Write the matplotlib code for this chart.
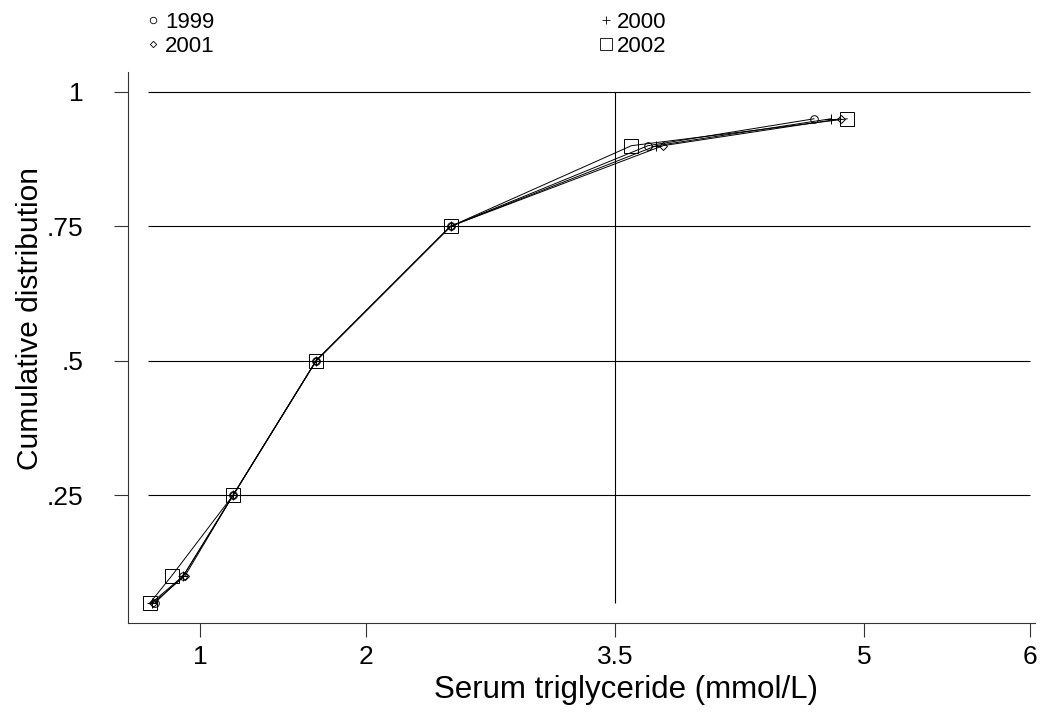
import matplotlib
matplotlib.use("Agg")
import matplotlib.pyplot as plt

plt.rcParams['font.family'] = ['Liberation Sans', 'DejaVu Sans']

# Cumulative probabilities (percentiles) and triglyceride values per survey year
cum_prob = [0.05, 0.10, 0.25, 0.50, 0.75, 0.90, 0.95]
tg_1999 = [0.73, 0.90, 1.20, 1.70, 2.51, 3.70, 4.70]
tg_2000 = [0.71, 0.90, 1.20, 1.70, 2.51, 3.75, 4.80]
tg_2001 = [0.72, 0.91, 1.20, 1.70, 2.51, 3.79, 4.86]
tg_2002 = [0.70, 0.83, 1.20, 1.70, 2.51, 3.60, 4.90]

years = ['1999', '2000', '2001', '2002']
x_ticks = [1, 2, 3.5, 5, 6]
x_tick_labels = ['1', '2', '3.5', '5', '6']
y_ticks = [0.25, 0.5, 0.75, 1.0]
y_tick_labels = ['.25', '.5', '.75', '1']
ref_x = 3.5

fig = plt.figure(figsize=(10.4, 7.13), dpi=100)
ax = fig.add_axes([0.1228, 0.126, 0.8722, 0.773])

# horizontal grid and vertical reference line
ax.hlines(y_ticks, 0.687, 6.0, color='black', lw=0.8, zorder=1)
ax.vlines(ref_x, cum_prob[0], 1.0, color='black', lw=0.8, zorder=1)

styles = [
    dict(marker='o', ms=5.5, mfc='none'),
    dict(marker='+', ms=6.5),
    dict(marker='D', ms=3.8, mfc='none'),
    dict(marker='s', ms=10.0, mfc='none'),
]
series = [tg_1999, tg_2000, tg_2001, tg_2002]
for yr, vals, st in zip(years, series, styles):
    ax.plot(vals, cum_prob, color='black', lw=0.7, mec='black',
            mew=0.7, label=yr, zorder=3, **st)

ax.set_xlim(0.565, 6.03)
ax.set_ylim(0.012, 1.037)
ax.set_xticks(x_ticks)
ax.set_xticklabels(x_tick_labels)
ax.set_yticks(y_ticks)
ax.set_yticklabels(y_tick_labels)

for s in ['top', 'right']:
    ax.spines[s].set_visible(False)
for s in ['left', 'bottom']:
    ax.spines[s].set_linewidth(0.8)
    ax.spines[s].set_color('#333333')

ax.tick_params(axis='both', direction='out', length=10, width=0.8,
               color='#333333', labelsize=19)
ax.tick_params(axis='y', pad=22)
ax.tick_params(axis='x', pad=6)

ax.set_xlabel('Serum triglyceride (mmol/L)', fontsize=22.5, va='center')
ax.set_ylabel('Cumulative distribution', fontsize=21.5, va='center')
ax.xaxis.set_label_coords(0.549, -0.1216)
ax.yaxis.set_label_coords(-0.1077, 0.5535)

# legend above the plot: two columns, ordered 1999/2001 | 2000/2002
order = [0, 2, 1, 3]
leg_handles = []
for i in order:
    st = dict(styles[i])
    st['ms'] = st['ms'] * 0.85
    lh, = ax.plot([], [], ls='none', color='black', mec='black', mew=0.6, **st)
    leg_handles.append(lh)
fig.legend(leg_handles, [years[i] for i in order], ncol=2,
           loc='upper left', bbox_to_anchor=(0.141, 0.983),
           frameon=False, fontsize=16, handlelength=0.6, handletextpad=0.22,
           columnspacing=17.3, labelspacing=0.14, borderaxespad=0,
           borderpad=0)

fig.savefig('out.png', dpi=100, facecolor='white')
